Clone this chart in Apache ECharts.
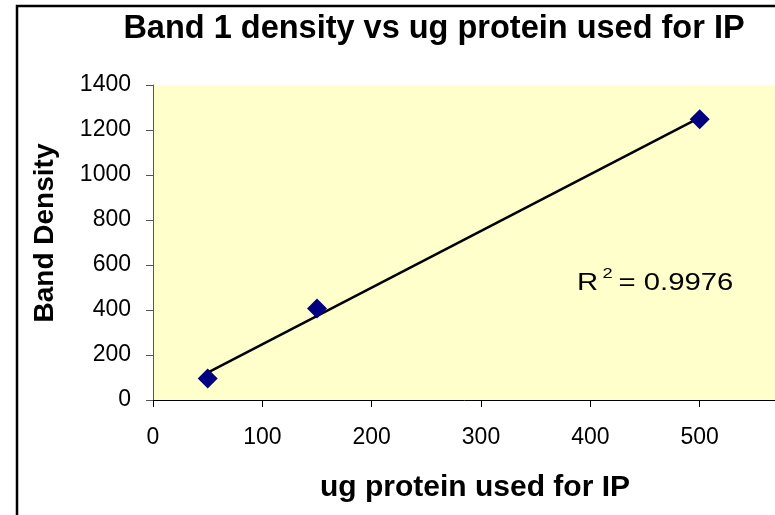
<!DOCTYPE html>
<html>
<head>
<meta charset="utf-8">
<script src="https://cdn.jsdelivr.net/npm/echarts@6/dist/echarts.min.js"></script>
<style>
html,body{margin:0;padding:0;background:#fff;}
#chart{width:775px;height:515px;}
</style>
</head>
<body>
<div id="chart"></div>
<script>
// ---- data ----
const proteinUg = [50, 150, 500];
const bandDensity = [96, 407, 1248];
const xTicks = [0, 100, 200, 300, 400, 500, 600];
const yTicks = [0, 200, 400, 600, 800, 1000, 1200, 1400];
const chartTitle = 'Band 1 density vs ug protein used for IP';
const xTitle = 'ug protein used for IP';
const yTitle = 'Band Density';
const r2Text = '0.9976';

// linear trendline (least squares) over the data range
const n = proteinUg.length;
const mx = proteinUg.reduce((a, b) => a + b, 0) / n;
const my = bandDensity.reduce((a, b) => a + b, 0) / n;
let sxy = 0, sxx = 0;
for (let i = 0; i < n; i++) {
  sxy += (proteinUg[i] - mx) * (bandDensity[i] - my);
  sxx += (proteinUg[i] - mx) * (proteinUg[i] - mx);
}
const slope = sxy / sxx;
const intercept = my - slope * mx;
const xMin = Math.min(...proteinUg), xMax = Math.max(...proteinUg);
const trend = [[xMin, intercept + slope * xMin], [xMax, intercept + slope * xMax]];

const font = '"Liberation Sans", Arial, sans-serif';
const plain = v => String(v);
const chart = echarts.init(document.getElementById('chart'));
chart.setOption({
  animation: false,
  backgroundColor: '#ffffff',
  title: {
    text: chartTitle,
    left: 434,
    top: 13,
    padding: 0,
    textAlign: 'center',
    textStyle: { fontFamily: font, fontSize: 32.5, fontWeight: 'bold', color: '#000' }
  },
  grid: {
    left: 153, top: 85, width: 656, height: 315,
    outerBoundsMode: 'none',
    show: true, backgroundColor: '#FFFFCC', borderWidth: 0
  },
  xAxis: {
    type: 'value',
    min: xTicks[0], max: xTicks[xTicks.length - 1], interval: 100,
    axisLine: { show: true, onZero: false, lineStyle: { color: '#000', width: 1 } },
    axisTick: { show: true, inside: false, length: 7, lineStyle: { color: '#000' } },
    splitLine: { show: false },
    axisLabel: { fontFamily: font, fontSize: 23, color: '#000', margin: 26, formatter: plain }
  },
  yAxis: {
    type: 'value',
    min: yTicks[0], max: yTicks[yTicks.length - 1], interval: 200,
    axisLine: { show: true, onZero: false, lineStyle: { color: '#555', width: 1 } },
    axisTick: { show: true, inside: false, length: 7, lineStyle: { color: '#555' } },
    splitLine: { show: false },
    axisLabel: { fontFamily: font, fontSize: 23, color: '#000', margin: 22, formatter: plain }
  },
  graphic: [
    {
      type: 'rect', silent: true, z: 100,
      shape: { x: 17, y: 6, width: 900, height: 700 },
      style: { fill: 'none', stroke: '#000', lineWidth: 2.5 }
    },
    {
      type: 'text', z: 100,
      x: 45, y: 233, rotation: Math.PI / 2,
      style: { text: yTitle, font: 'bold 28px ' + font, fill: '#000', align: 'center', verticalAlign: 'middle' }
    },
    {
      type: 'text', z: 100,
      x: 475, y: 488,
      style: { text: xTitle, font: 'bold 30px ' + font, fill: '#000', align: 'center', verticalAlign: 'middle' }
    },
    {
      type: 'group', z: 100, x: 577, y: 283, scaleX: 1.22,
      children: [
        { type: 'text', z: 100, x: 0, y: 0,
          style: { text: 'R', font: '24px ' + font, fill: '#000', align: 'left', verticalAlign: 'middle' } },
        { type: 'text', z: 100, x: 21, y: -9,
          style: { text: '2', font: '15px ' + font, fill: '#000', align: 'left', verticalAlign: 'middle' } },
        { type: 'text', z: 100, x: 34, y: 0,
          style: { text: '= ' + r2Text, font: '24px ' + font, fill: '#000', align: 'left', verticalAlign: 'middle' } }
      ]
    }
  ],
  series: [
    {
      type: 'line',
      data: trend,
      showSymbol: false,
      symbol: 'none',
      lineStyle: { color: '#000', width: 2.5 },
      z: 3
    },
    {
      type: 'scatter',
      data: proteinUg.map((x, i) => [x, bandDensity[i]]),
      symbol: 'diamond',
      symbolSize: 20,
      itemStyle: { color: '#000080', opacity: 1 },
      z: 4
    }
  ]
});
</script>
</body>
</html>
